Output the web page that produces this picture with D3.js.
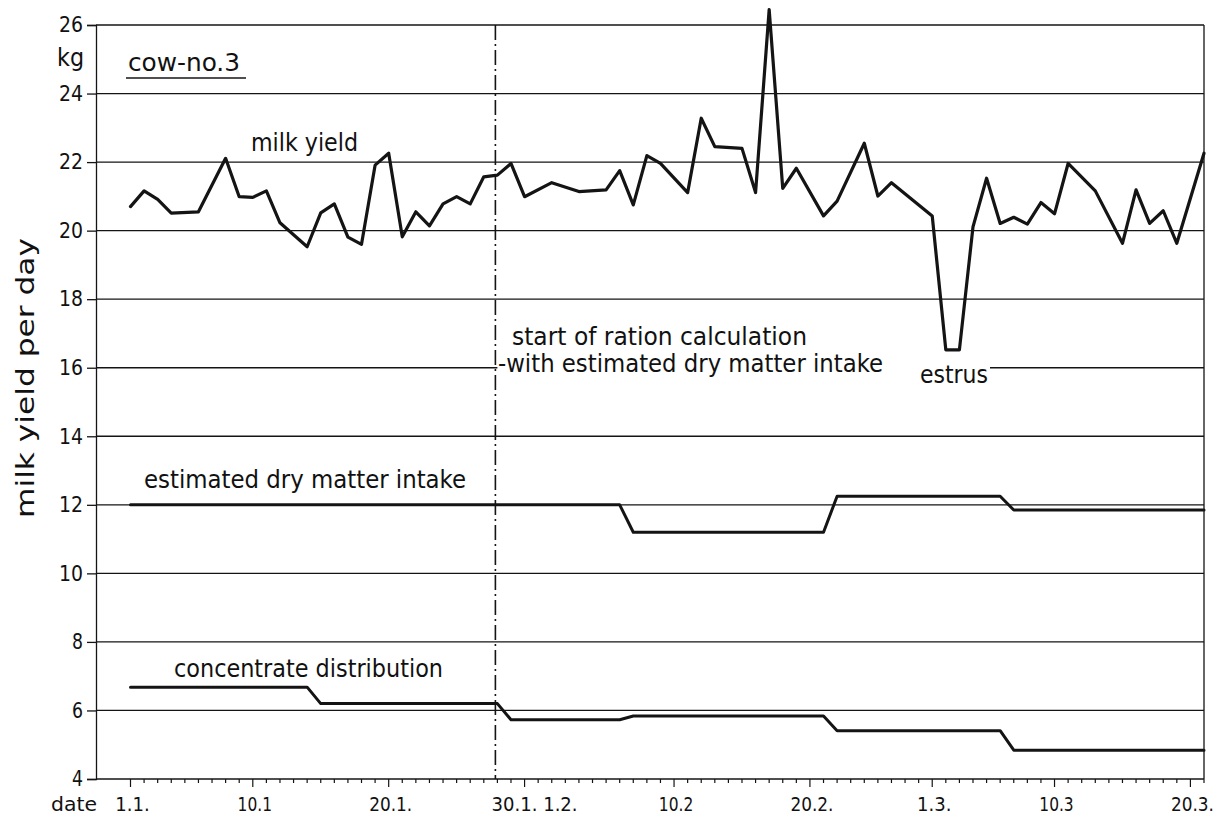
<!DOCTYPE html>
<html>
<head>
<meta charset="utf-8">
<script src="https://cdn.jsdelivr.net/npm/d3@7"></script>
<style>
body { margin: 0; background: #fff; }
.chart text { font-family: "DejaVu Sans Condensed", "Liberation Sans Narrow", "DejaVu Sans", sans-serif; fill: #111; }
</style>
</head>
<body>
<div class="chart" style="width:1228px;height:818px"></div>
<script>
// days are counted from 1.1. (= day 0)
const milkDays  = [0, 1, 2, 3, 5, 7, 8, 9, 10, 11, 13, 14, 15, 16, 17, 18, 19, 20, 21, 22, 23, 24, 25, 26, 27, 28, 29,
                   31, 33, 35, 36, 37, 38, 39, 41, 42, 43, 45, 46, 47, 48, 49, 51, 52, 54, 55, 56, 59, 60, 61,
                   62, 63, 64, 65, 66, 67, 68, 69, 71, 73, 74, 75, 76, 77, 79];
const milkYield = [20.70, 21.16, 20.91, 20.51, 20.55, 22.11, 20.99, 20.97, 21.16, 20.23, 19.53, 20.52, 20.78, 19.81, 19.60,
                   21.91, 22.26, 19.82, 20.55, 20.14, 20.78, 20.99, 20.78, 21.57, 21.62, 21.96, 20.99,
                   21.40, 21.14, 21.19, 21.75, 20.75, 22.19, 21.96, 21.11, 23.28, 22.45, 22.40, 21.11, 26.45, 21.23, 21.82,
                   20.43, 20.86, 22.55, 21.01, 21.40, 20.43, 16.52, 16.52,
                   20.11, 21.53, 20.21, 20.39, 20.19, 20.82, 20.49, 21.96, 21.16, 19.63, 21.19, 20.21, 20.58, 19.63, 22.26];

const dmDays   = [0, 36, 37, 51, 52, 64, 65, 79];
const dmIntake = [12.0, 12.0, 11.2, 11.2, 12.25, 12.25, 11.85, 11.85];

const concDays   = [0, 13, 14, 27, 28, 36, 37, 51, 52, 64, 65, 79];
const concAmount = [6.68, 6.68, 6.2, 6.2, 5.73, 5.73, 5.84, 5.84, 5.41, 5.41, 4.84, 4.84];

const yTicks = [4, 6, 8, 10, 12, 14, 16, 18, 20, 22, 24, 26];
const dateTicks  = [0, 9, 19, 29, 40, 50, 59, 68, 78];
const dateLabels = ['1.1.', '10.1', '20.1.', '30.1. 1.2.', '10.2', '20.2.', '1.3.', '10.3', '20.3.'];
const rationStart = 27;   // 28.1.

const width = d3.select('.chart').node().clientWidth;
const height = d3.select('.chart').node().clientHeight;
const svg = d3.select('.chart')
	.append('svg')
	.attr('width', width)
	.attr('height', height);

const left = 96;
const x = d3.scaleLinear().domain([0, 79]).range([130.5, 1204]);
const y = d3.scaleLinear().domain([4, 26]).range([779, 25]);
const right = x(79);

const ink = '#141414';

// horizontal grid lines
svg.append('g')
	.selectAll('line')
	.data(yTicks.slice(1))
	.join('line')
	.attr('x1', left)
	.attr('x2', right)
	.attr('y1', d => y(d))
	.attr('y2', d => y(d))
	.style('stroke', ink)
	.style('stroke-width', 1.3);

// right border
svg.append('line')
	.attr('x1', right).attr('x2', right)
	.attr('y1', y(26)).attr('y2', y(4))
	.style('stroke', ink).style('stroke-width', 1.3);

// y axis
const yAxis = svg.append('g')
	.attr('transform', `translate(${left},0)`)
	.call(d3.axisLeft(y).tickValues(yTicks).tickSize(9).tickPadding(4).tickFormat(d3.format('d')));
yAxis.select('.domain').style('stroke', ink).style('stroke-width', 1.3);
yAxis.selectAll('.tick line').style('stroke', ink).style('stroke-width', 1.3);
yAxis.selectAll('.tick text')
	.style('font-size', '21px')
	.attr('textLength', d => d < 10 ? 11 : 24)
	.attr('lengthAdjust', 'spacingAndGlyphs')
	.attr('fill', ink);

// x axis: a small tick for every day, long ticks at the labelled dates
const xAxisY = y(4);
svg.append('line')
	.attr('x1', left).attr('x2', right)
	.attr('y1', xAxisY).attr('y2', xAxisY)
	.style('stroke', ink).style('stroke-width', 1.3);
svg.append('g')
	.selectAll('line')
	.data(d3.range(0, 80))
	.join('line')
	.attr('x1', d => x(d)).attr('x2', d => x(d))
	.attr('y1', xAxisY)
	.attr('y2', d => xAxisY + (dateTicks.includes(d) ? 8 : 4))
	.style('stroke', ink).style('stroke-width', 1.2);
svg.append('g')
	.selectAll('text')
	.data(dateTicks)
	.join('text')
	.attr('x', (d, i) => x(d) + (i === 3 ? 10 : 2))
	.attr('y', 811)
	.attr('text-anchor', 'middle')
	.style('font-size', '20px')
	.attr('textLength', (d, i) => dateLabels[i].length * 8.6)
	.attr('lengthAdjust', 'spacingAndGlyphs')
	.text((d, i) => dateLabels[i]);
svg.append('text')
	.attr('x', 51).attr('y', 811)
	.style('font-size', '20px')
	.attr('textLength', 46)
	.attr('lengthAdjust', 'spacingAndGlyphs')
	.text('date');

// "start of ration calculation" marker
svg.append('line')
	.attr('x1', x(rationStart) - 2).attr('x2', x(rationStart) - 2)
	.attr('y1', y(26)).attr('y2', y(4))
	.style('stroke', ink)
	.style('stroke-width', 1.6)
	.style('stroke-dasharray', '15,4,2,4');

// gap in the 16 line behind the annotation text
svg.append('rect')
	.attr('x', x(rationStart)).attr('y', y(16) - 4)
	.attr('width', 990 - x(rationStart)).attr('height', 8)
	.style('fill', '#fff');

// series
const line = d3.line().x(d => x(d[0])).y(d => y(d[1]));
const series = [
	d3.zip(milkDays, milkYield),
	d3.zip(dmDays, dmIntake),
	d3.zip(concDays, concAmount)
];
svg.append('g')
	.selectAll('path')
	.data(series)
	.join('path')
	.attr('d', line)
	.style('fill', 'none')
	.style('stroke', ink)
	.style('stroke-width', (d, i) => i === 0 ? 3.2 : 3)
	.style('stroke-linejoin', 'round')
	.style('stroke-linecap', 'round');

// labels
function label(txt, px, py, len) {
	return svg.append('text')
		.attr('x', px).attr('y', py)
		.attr('textLength', len)
		.attr('lengthAdjust', 'spacingAndGlyphs')
		.style('font-size', '24px')
		.text(txt);
}
label('cow-no.3', 128, 71, 112);
svg.append('line')
	.attr('x1', 126).attr('x2', 246)
	.attr('y1', 78).attr('y2', 78)
	.style('stroke', ink).style('stroke-width', 1.5);
label('kg', 57, 66, 27);
label('milk yield', 251, 151, 107);
label('start of ration calculation', 512, 345, 295);
label('-with estimated dry matter intake', 498, 372, 385);
label('estrus', 920, 383, 68);
label('estimated dry matter intake', 144, 488, 322);
label('concentrate distribution', 174, 677, 269);

svg.append('text')
	.attr('transform', 'translate(34,378) rotate(-90)')
	.attr('text-anchor', 'middle')
	.attr('textLength', 280)
	.attr('lengthAdjust', 'spacingAndGlyphs')
	.style('font-size', '24px')
	.text('milk yield per day');
</script>
</body>
</html>
